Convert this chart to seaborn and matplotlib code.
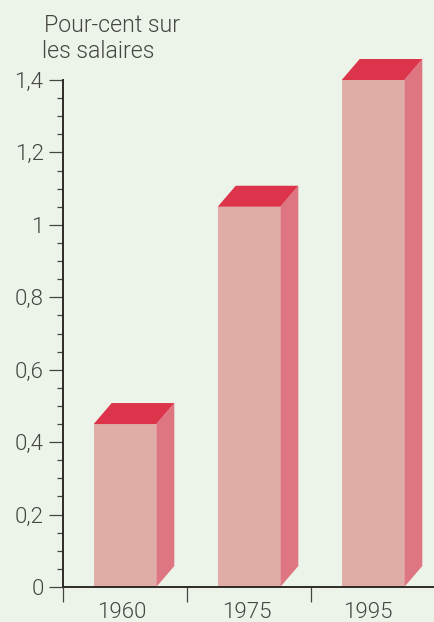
import pandas as pd
import numpy as np
import matplotlib
matplotlib.use('Agg')
import matplotlib.pyplot as plt
import seaborn as sns

# donnees
annees = ['1960', '1975', '1995']
valeurs = [0.45, 1.05, 1.40]
ticks_y = [0, 0.2, 0.4, 0.6, 0.8, 1, 1.2, 1.4]
labels_y = ['0', '0,2', '0,4', '0,6', '0,8', '1', '1,2', '1,4']

fond = '#ecf4e9'
face = '#dfaca6'
cote = '#dd7681'
dessus = '#dc344b'
gris = '#444442'

sns.set_theme(style='white')
plt.rcParams['font.family'] = ['Roboto', 'Liberation Sans', 'DejaVu Sans']
plt.rcParams['font.weight'] = 300

df = pd.DataFrame({'annee': annees, 'valeur': valeurs})

fig = plt.figure(figsize=(4.35, 6.22), dpi=100, facecolor=fond)
ax = fig.add_axes([63 / 435, 1 - 587 / 622, 372 / 435, 507 / 622], facecolor=fond)

sns.barplot(data=df, x='annee', y='valeur', color=face, saturation=1, width=0.505,
            edgecolor='none', linewidth=0, ax=ax)
ax.set_xlim(-0.5, 2.5)
ax.set_ylim(0, 1.4)

# profondeur du faux 3D, en pixels convertis en unites de donnees
dx = 18 / 124
dy = 21 / (507 / 1.4)

for bar in ax.patches:
    x0 = bar.get_x()
    x1 = x0 + bar.get_width()
    h = bar.get_height()
    ax.fill([x1, x1 + dx, x1 + dx, x1], [0, dy, h + dy, h], color=cote, lw=0, clip_on=False, zorder=2)
    ax.fill([x0, x1, x1 + dx, x0 + dx], [h, h, h + dy, h + dy], color=dessus, lw=0, clip_on=False, zorder=2)

sns.despine(ax=ax)
for s in ['left', 'bottom']:
    ax.spines[s].set_color('#2e2a26')
    ax.spines[s].set_linewidth(1.4)
    ax.spines[s].set_zorder(5)

ax.set_yticks(ticks_y)
ax.set_yticklabels(labels_y)
ax.set_yticks(np.arange(0, 1.4, 0.05), minor=True)
ax.tick_params(axis='y', which='major', direction='out', left=True, length=10, width=0.9, color=gris,
               labelsize=16, labelcolor=gris, pad=4)
ax.tick_params(axis='y', which='minor', direction='out', left=True, length=4.5, width=0.9, color=gris)

# graduations entre les categories, annees un peu a gauche comme sur l'original
ax.set_xticks([-0.5, 0.5, 1.5, 2.5])
ax.set_xticklabels([])
ax.set_xticks([-0.025, 0.98, 1.955], minor=True)
ax.set_xticklabels(annees, minor=True)
ax.tick_params(axis='x', which='major', direction='out', bottom=True, length=10.5, width=0.9, color=gris)
ax.tick_params(axis='x', which='minor', bottom=False, length=0, labelsize=16, labelcolor=gris, pad=11)
ax.set_xlabel('')
ax.set_ylabel('')

fig.text(44 / 435, 1 - 25 / 622, 'Pour-cent sur', fontsize=16.7, color=gris, va='center', ha='left')
fig.text(42 / 435, 1 - 52 / 622, 'les salaires', fontsize=16.7, color=gris, va='center', ha='left')

fig.savefig('out.png', dpi=100, facecolor=fond)
